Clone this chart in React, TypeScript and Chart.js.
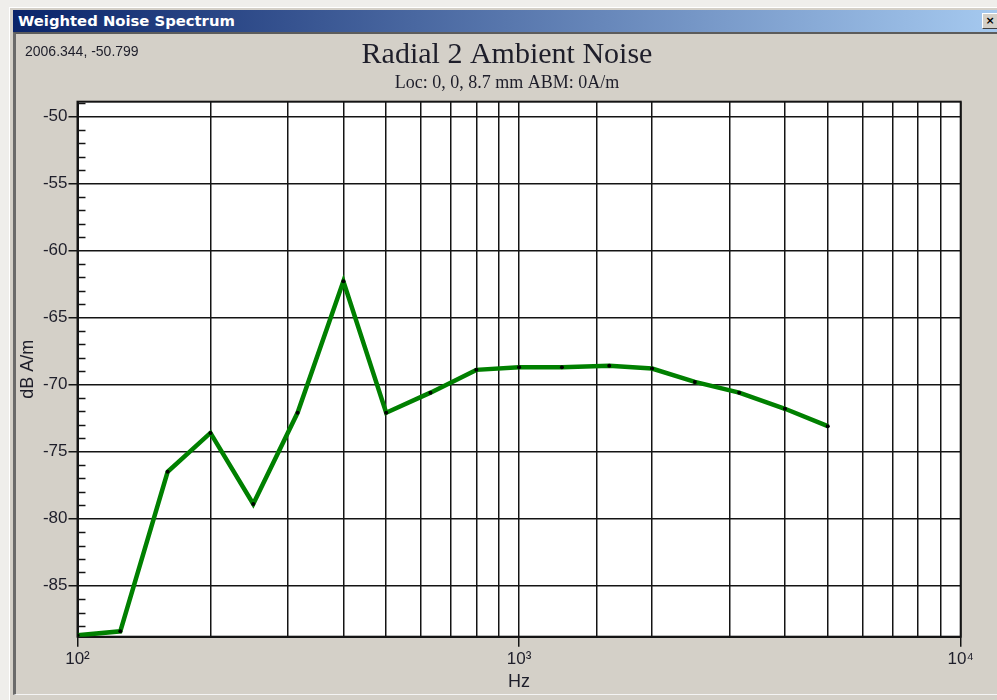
import React, { useEffect, useRef } from 'react';
import { Chart, registerables } from 'chart.js';

Chart.register(...registerables);

// ---- data ----
const FREQS_HZ = [100, 125, 160, 200, 250, 315, 400, 500, 630, 800, 1000, 1250, 1600, 2000, 2500, 3150, 4000, 5000];
const LEVELS_DB = [-88.7, -88.4, -76.5, -73.6, -78.9, -72.1, -62.3, -72.1, -70.6, -68.9, -68.7, -68.7, -68.6, -68.8, -69.8, -70.6, -71.8, -73.1];

const X_MIN = 100;
const X_MAX = 10000;
const Y_MIN = -88.8;
const Y_MAX = -48.9;
const Y_MAJOR_STEP = 5;

const WINDOW_TITLE = 'Weighted Noise Spectrum';
const CHART_TITLE = 'Radial 2 Ambient Noise';
const CHART_SUBTITLE = 'Loc: 0, 0, 8.7 mm ABM: 0A/m';
const CURSOR_READOUT = '2006.344, -50.799';
const X_AXIS_LABEL = 'Hz';
const Y_AXIS_LABEL = 'dB A/m';
const SUPERSCRIPTS: Record<number, string> = { 0: '⁰', 1: '¹', 2: '²', 3: '³', 4: '⁴', 5: '⁵' };

const CANVAS_W = 980;
const CANVAS_H = 660;
const GRID = '#141414';
const TEXT = '#1e1e2a';

const isDecade = (v: number) => Math.abs(Math.log10(v) - Math.round(Math.log10(v))) < 1e-9;
const isYMajor = (v: number) => Math.abs(v % Y_MAJOR_STEP) < 1e-9;

const framePlugin = {
  id: 'frame',
  beforeDraw(chart: any) {
    const { ctx, chartArea: a } = chart;
    ctx.save();
    ctx.fillStyle = '#ffffff';
    ctx.fillRect(a.left, a.top, a.right - a.left, a.bottom - a.top);
    ctx.restore();
  },
  beforeDatasetsDraw(chart: any) {
    const { ctx, chartArea: a } = chart;
    const ys = chart.scales.y;
    ctx.save();
    ctx.strokeStyle = GRID;
    ctx.lineWidth = 1.5;
    // inward minor ticks on the left axis
    ys.ticks.forEach((t: any) => {
      if (isYMajor(t.value)) return;
      const py = Math.round(ys.getPixelForValue(t.value)) + 0.5;
      ctx.beginPath();
      ctx.moveTo(a.left, py);
      ctx.lineTo(a.left + 8, py);
      ctx.stroke();
    });
    // frame
    ctx.lineWidth = 2;
    ctx.strokeRect(a.left, a.top, a.right - a.left, a.bottom - a.top);
    ctx.restore();
  },
  afterDraw(chart: any) {
    const { ctx } = chart;
    const cx = chart.width / 2;
    ctx.save();
    ctx.fillStyle = TEXT;
    ctx.textAlign = 'center';
    ctx.textBaseline = 'alphabetic';
    ctx.font = '30px "Liberation Serif", "DejaVu Serif", serif';
    ctx.fillText(CHART_TITLE, cx, 28);
    ctx.font = '18px "Liberation Serif", "DejaVu Serif", serif';
    ctx.fillText(CHART_SUBTITLE, cx, 53);
    ctx.textAlign = 'left';
    ctx.font = '14px "Liberation Sans", Arial, sans-serif';
    ctx.fillText(CURSOR_READOUT, 8, 21);
    ctx.restore();
  },
};

function NoiseChart() {
  const ref = useRef<HTMLCanvasElement | null>(null);
  useEffect(() => {
    if (!ref.current) return;
    const chart = new Chart(ref.current, {
      type: 'line',
      data: {
        datasets: [
          {
            label: 'Weighted noise',
            data: FREQS_HZ.map((f, i) => ({ x: f, y: LEVELS_DB[i] })),
            borderColor: '#008000',
            borderWidth: 4.5,
            tension: 0,
            pointRadius: 2,
            pointBackgroundColor: '#000000',
            pointBorderWidth: 0,
            pointHoverRadius: 2,
          },
        ],
      },
      options: {
        responsive: false,
        animation: false,
        devicePixelRatio: 1,
        events: [],
        layout: { padding: { left: 0, right: 36.3, top: 66.7, bottom: 0 } },
        plugins: {
          legend: { display: false },
          title: { display: false },
          tooltip: { enabled: false },
        },
        scales: {
          x: {
            type: 'logarithmic',
            min: X_MIN,
            max: X_MAX,
            afterFit: (s: any) => {
              s.height = 58.3;
            },
            border: { display: true, color: GRID, width: 2 },
            grid: {
              color: GRID,
              lineWidth: 1.5,
              drawTicks: true,
              tickLength: 10,
              tickWidth: 1.5,
              tickColor: (c: any) => (c.tick && isDecade(c.tick.value) ? GRID : 'rgba(0,0,0,0)'),
            },
            ticks: {
              autoSkip: false,
              maxRotation: 0,
              padding: 2,
              color: TEXT,
              font: { family: '"Liberation Sans", Arial, sans-serif', size: 17 },
              callback: (v: any) => {
                const n = Number(v);
                if (!isDecade(n)) return '';
                const e = Math.round(Math.log10(n));
                return '10' + (SUPERSCRIPTS[e] ?? String(e));
              },
            },
            title: {
              display: true,
              text: X_AXIS_LABEL,
              color: TEXT,
              padding: 2,
              font: { family: '"Liberation Sans", Arial, sans-serif', size: 18 },
            },
          },
          y: {
            type: 'linear',
            min: Y_MIN,
            max: Y_MAX,
            afterFit: (s: any) => {
              s.width = 60.5;
            },
            border: { display: true, color: GRID, width: 2 },
            grid: {
              color: (c: any) => (c.tick && isYMajor(c.tick.value) ? GRID : 'rgba(0,0,0,0)'),
              lineWidth: 1.5,
              drawTicks: true,
              tickLength: 9,
              tickWidth: 1.5,
              tickColor: (c: any) => (c.tick && isYMajor(c.tick.value) ? GRID : 'rgba(0,0,0,0)'),
            },
            ticks: {
              stepSize: 1,
              includeBounds: false,
              autoSkip: false,
              padding: 1,
              color: TEXT,
              font: { family: '"Liberation Sans", Arial, sans-serif', size: 17 },
              callback: (v: any) => (isYMajor(Number(v)) ? String(v) : ''),
            },
            title: {
              display: true,
              text: Y_AXIS_LABEL,
              color: TEXT,
              padding: 0,
              font: { family: '"Liberation Sans", Arial, sans-serif', size: 18 },
            },
          },
        },
      },
      plugins: [framePlugin],
    } as any);
    return () => chart.destroy();
  }, []);
  return (
    <canvas
      ref={ref}
      width={CANVAS_W}
      height={CANVAS_H}
      style={{ position: 'absolute', left: 17, top: 35, width: CANVAS_W, height: CANVAS_H }}
    />
  );
}

export default function App() {
  return (
    <div
      style={{
        position: 'absolute',
        left: 0,
        top: 0,
        width: 997,
        height: 700,
        overflow: 'hidden',
        background: '#efeeeb',
      }}
    >
      {/* window frame */}
      <div
        style={{
          position: 'absolute',
          left: 9,
          top: 7,
          width: 1000,
          height: 692,
          background: '#d4d0c8',
          borderTop: '1px solid #ffffff',
          borderLeft: '1px solid #ffffff',
          borderBottom: '1px solid #ffffff',
        }}
      />
      {/* title bar */}
      <div
        style={{
          position: 'absolute',
          left: 13,
          top: 10,
          width: 990,
          height: 22,
          background: 'linear-gradient(to right, #0a246a 0%, #a6caf0 100%)',
        }}
      />
      <div
        style={{
          position: 'absolute',
          left: 18,
          top: 10,
          height: 22,
          lineHeight: '22px',
          color: '#ffffff',
          fontFamily: '"DejaVu Sans", Tahoma, sans-serif',
          fontWeight: 'bold',
          fontSize: 14.8,
          whiteSpace: 'nowrap',
        }}
      >
        {WINDOW_TITLE}
      </div>
      {/* close button */}
      <div
        style={{
          position: 'absolute',
          left: 982,
          top: 13,
          width: 14,
          height: 14,
          background: '#d4d0c8',
          borderTop: '1px solid #ffffff',
          borderLeft: '1px solid #ffffff',
          borderBottom: '1px solid #404040',
          borderRight: '1px solid #404040',
          fontFamily: '"DejaVu Sans", sans-serif',
          fontSize: 11,
          fontWeight: 'bold',
          lineHeight: '13px',
          textAlign: 'center',
          color: '#000',
        }}
      >
        ×
      </div>
      {/* client area with sunken edge */}
      <div
        style={{
          position: 'absolute',
          left: 13,
          top: 32,
          width: 990,
          height: 663,
          background: '#d4d0c8',
          borderTop: '2px solid #5c5c5c',
          borderLeft: '3px solid #6a6a6a',
          borderBottom: '1px solid #f4f4f4',
          boxSizing: 'border-box',
        }}
      />
      <NoiseChart />
    </div>
  );
}
